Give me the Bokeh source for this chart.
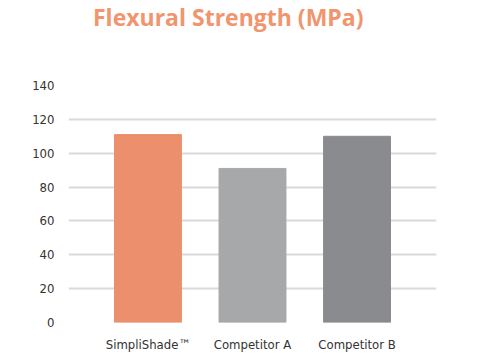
from bokeh.plotting import figure
from bokeh.models import FactorRange, Range1d, ColumnDataSource, FixedTicker, Div
from bokeh.layouts import column
from bokeh.embed import file_html
from bokeh.resources import INLINE

title_text = "Flexural Strength (MPa)"
categories = ["SimpliShade™", "Competitor A", "Competitor B"]
values = [111, 91, 110]
colors = ["#EC8F6D", "#A7A8AA", "#8A8B8F"]
y_ticks = [0, 20, 40, 60, 80, 100, 120, 140]

src = ColumnDataSource(dict(cat=categories, val=values, color=colors))

title_div = Div(
    text=('<div style="font-family:\'Open Sans\';font-size:23px;font-weight:bold;'
          'color:#F0956E;padding:1px 0 0 93px;line-height:normal;white-space:nowrap">'
          + title_text + '</div>'),
    width=420, height=45, margin=(0, 0, 0, 0))

p = figure(width=478, height=313, output_backend="svg", toolbar_location=None,
           x_range=FactorRange(*categories, range_padding=0.26, range_padding_units="absolute"),
           y_range=Range1d(0, 140), margin=(0, 0, 0, 0),
           min_border_left=68, min_border_right=42, min_border_bottom=36, min_border_top=40)

p.vbar(x="cat", top="val", width=0.64, color="color", source=src)

p.outline_line_color = None
p.background_fill_color = "white"
p.border_fill_color = "white"

p.xgrid.grid_line_color = None
p.ygrid.ticker = FixedTicker(ticks=y_ticks)
p.ygrid.grid_line_color = "#DADADA"
p.ygrid.grid_line_width = 2
p.ygrid.level = "underlay"

p.yaxis.ticker = FixedTicker(ticks=y_ticks)
for ax in (p.xaxis[0], p.yaxis[0]):
    ax.axis_line_color = None
    ax.major_tick_line_color = None
    ax.minor_tick_line_color = None
    ax.major_label_text_font = "DejaVu Sans Condensed"
    ax.major_label_text_font_size = "13px"
    ax.major_label_text_color = "#333333"
p.yaxis.major_label_standoff = 8
p.xaxis.major_label_standoff = 8

layout = column(title_div, p, spacing=0, margin=(0, 0, 0, 0))

open("out.html", "w").write(file_html(layout, INLINE))
